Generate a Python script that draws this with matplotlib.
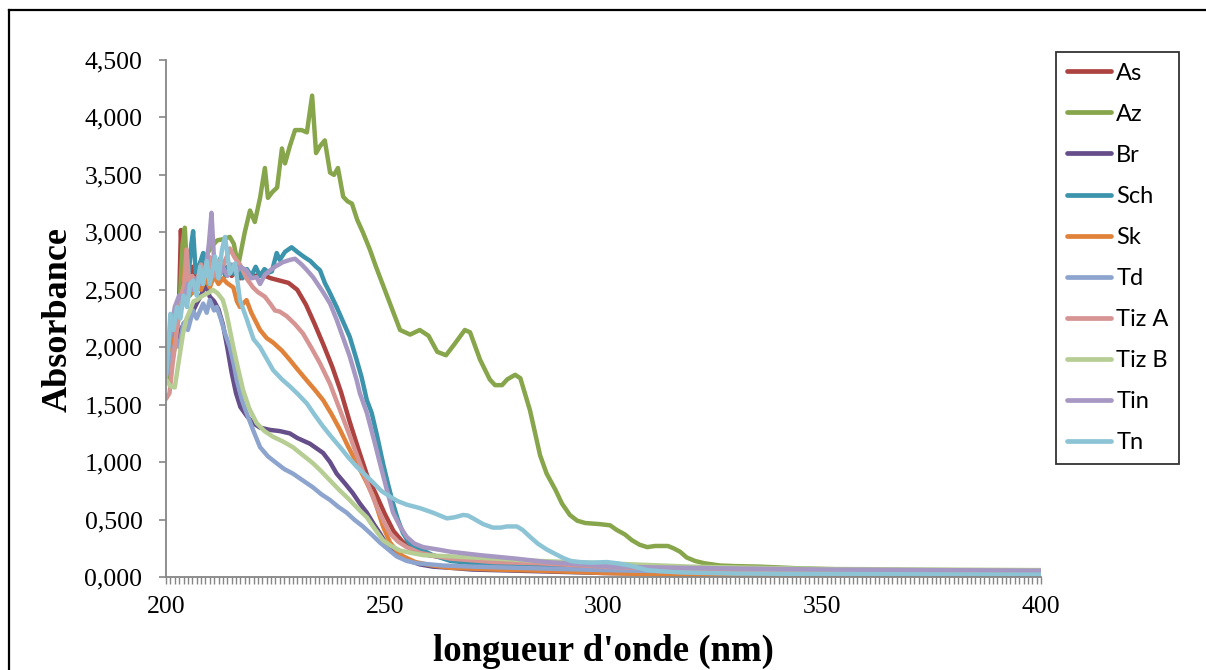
import matplotlib
matplotlib.use("Agg")
import matplotlib.pyplot as plt
from matplotlib.ticker import MultipleLocator, FuncFormatter
from matplotlib.lines import Line2D

# ---- spectra: wavelength (nm) and absorbance for each extract ----
as_nm = [200, 201, 202, 203, 203.4, 204, 205, 206, 207, 208, 209, 210, 211, 212, 213, 214, 215, 216, 217, 218, 219,
         220, 222, 224, 226, 228, 230, 232, 234, 236, 238, 240, 242, 244, 246, 248, 250, 252, 254, 256, 258, 260,
         265, 270, 280, 290, 300, 320, 350, 400]
as_abs = [1.70, 1.95, 2.20, 2.40, 3.02, 2.45, 2.55, 2.70, 2.60, 2.75, 2.65, 2.78, 2.62, 2.72, 2.66, 2.70, 2.62, 2.66,
          2.60, 2.66, 2.63, 2.62, 2.63, 2.60, 2.58, 2.56, 2.50, 2.37, 2.20, 2.02, 1.83, 1.61, 1.35, 1.11, 0.88, 0.72,
          0.55, 0.40, 0.31, 0.25, 0.21, 0.19, 0.16, 0.14, 0.12, 0.10, 0.08, 0.05, 0.04, 0.03]

az_nm = [200, 201, 202, 203, 203.8, 204.3, 204.9, 205.5, 206.5, 207.5, 208.5, 209.5, 210.5, 211.7, 213, 214.6, 215.5,
         216.5, 218, 219.2, 220.3, 221.5, 222.6, 223.3, 224.3, 225.4, 226.5, 227.2, 228.3, 229.5, 231, 232.2, 233.4,
         234.3, 235.2, 236.3, 237.5, 238.4, 239.3, 240.5, 241.5, 242.5, 243.7, 245, 246.6, 248, 250, 252, 253.5,
         255.8, 258, 260, 262, 264, 266, 268.3, 269.5, 271.8, 274, 275.2, 276.8, 278, 279.8, 281, 283.2, 285.5, 287,
         289, 290.5, 292.3, 294, 295.8, 299.2, 301.5, 303, 304.9, 306.5, 308.3, 310, 311.8, 314.7, 316, 317.5, 319,
         320.9, 323, 326.6, 330, 335.8, 345, 356, 375, 400]
az_abs = [1.72, 1.80, 2.00, 2.30, 2.90, 3.04, 2.60, 2.45, 2.55, 2.62, 2.70, 2.82, 2.88, 2.93, 2.94, 2.96, 2.90,
          2.71, 3.00, 3.19, 3.09, 3.30, 3.56, 3.30, 3.35, 3.39, 3.73, 3.60, 3.75, 3.89, 3.89, 3.87, 4.19,
          3.69, 3.75, 3.80, 3.52, 3.50, 3.56, 3.31, 3.27, 3.25, 3.11, 3.00, 2.85, 2.70, 2.50, 2.30, 2.15,
          2.11, 2.15, 2.10, 1.96, 1.93, 2.03, 2.15, 2.13, 1.89, 1.72, 1.67, 1.67, 1.72, 1.76, 1.73, 1.45, 1.06, 0.90,
          0.76, 0.64, 0.54, 0.49, 0.47, 0.46, 0.45, 0.41, 0.37, 0.32, 0.28, 0.26, 0.27, 0.27, 0.25, 0.22, 0.17,
          0.14, 0.12, 0.10, 0.095, 0.09, 0.075, 0.065, 0.055, 0.05]

br_nm = [200, 201, 202, 203, 204, 205, 206, 207, 208, 209, 210, 211, 212, 213, 214, 215, 216, 217, 218.5, 219.9,
         221.5, 223.8, 226, 228.3, 230, 232.9, 235.9, 237.5, 239, 241, 242.7, 244.3, 245.9, 247.5, 248.9, 250, 251.2,
         253, 255, 258, 261, 265, 270, 285, 300, 330, 400]
br_abs = [1.85, 1.95, 2.05, 2.12, 2.20, 2.25, 2.30, 2.38, 2.45, 2.55, 2.44, 2.40, 2.33, 2.20, 2.00, 1.78, 1.60, 1.48,
          1.40, 1.34, 1.30, 1.28, 1.27, 1.25, 1.21, 1.16, 1.08, 1.00, 0.90, 0.81, 0.73, 0.64, 0.56, 0.46, 0.38, 0.31,
          0.26, 0.20, 0.15, 0.11, 0.09, 0.08, 0.065, 0.05, 0.035, 0.02, 0.01]

sch_nm = [200, 201, 202, 203, 204, 205, 205.8, 206.2, 206.8, 207.5, 208.5, 209.5, 210.5, 211.5, 212.5, 213.5, 214.5,
          215.5, 216.5, 217.5, 218.5, 219.5, 220.5, 221.5, 222.5, 223.5, 224.2, 225.3, 226, 227.2, 228.7, 230, 231.4,
          233, 234.3, 235.2, 236.3, 237.5, 239, 240.5, 242, 243.5, 244.7, 245.9, 247, 248.3, 249.6, 250.8, 251.9,
          253, 254.2, 255.5, 257, 258.8, 261, 265, 270, 285, 300, 320, 350, 400]
sch_abs = [1.80, 2.00, 2.20, 2.35, 2.45, 2.55, 2.90, 3.01, 2.65, 2.70, 2.82, 2.60, 2.75, 2.65, 2.78, 2.62, 2.72,
           2.64, 2.70, 2.60, 2.68, 2.62, 2.70, 2.62, 2.68, 2.65, 2.66, 2.82, 2.76, 2.83, 2.87, 2.83, 2.79,
           2.75, 2.70, 2.67, 2.56, 2.47, 2.35, 2.22, 2.09, 1.90, 1.74, 1.54, 1.43, 1.22, 0.99, 0.80, 0.64,
           0.50, 0.38, 0.30, 0.26, 0.23, 0.19, 0.14, 0.12, 0.10, 0.07, 0.05, 0.04, 0.03]

sk_nm = [200, 201, 202, 203, 204, 204.6, 205.2, 206, 207, 208, 209, 210, 211, 212, 213, 213.9, 215.4, 216.2, 216.9,
         218.4, 219.5, 221.5, 223, 224.5, 226.5, 228.3, 230, 232.2, 234, 235.9, 237.8, 239.8, 241.7, 243.6, 245.5,
         247.4, 248.5, 249.6, 250.4, 251.2, 252.7, 254.2, 257, 261, 265, 275, 285, 300, 320, 340, 400]
sk_abs = [1.75, 1.90, 2.10, 2.30, 2.50, 2.85, 2.50, 2.47, 2.55, 2.50, 2.60, 2.52, 2.62, 2.55, 2.60, 2.56, 2.52, 2.40,
          2.35, 2.41, 2.30, 2.15, 2.08, 2.04, 1.97, 1.89, 1.81, 1.71, 1.63, 1.54, 1.42, 1.28, 1.13, 0.99, 0.85,
          0.70, 0.57, 0.44, 0.37, 0.30, 0.23, 0.18, 0.13, 0.10, 0.08, 0.065, 0.055, 0.035, 0.015, 0.005, 0.0]

td_nm = [200, 201, 202.4, 203, 204, 205, 206.2, 207, 208.5, 209.3, 210, 211, 211.6, 212.5, 213.5, 214.6, 215.5, 216.2,
         217.3, 218.4, 220, 221.5, 223.3, 225.3, 227, 229, 231.3, 233.6, 235.5, 237.5, 239.4, 241.3, 243, 245, 247,
         248.9, 250.8, 252.7, 255, 257.3, 263.3, 270, 285, 300, 330, 400]
td_abs = [1.75, 1.90, 2.06, 2.00, 2.21, 2.15, 2.32, 2.25, 2.38, 2.30, 2.41, 2.32, 2.35, 2.25, 2.12, 2.00, 1.85, 1.71,
          1.55, 1.43, 1.27, 1.13, 1.05, 0.99, 0.94, 0.90, 0.84, 0.78, 0.72, 0.67, 0.61, 0.56, 0.50, 0.44, 0.37,
          0.30, 0.24, 0.18, 0.14, 0.12, 0.10, 0.09, 0.075, 0.06, 0.04, 0.03]

tiza_nm = [200, 200.8, 201.5, 202.5, 203.5, 204.2, 204.7, 205.3, 206, 207, 208, 209, 210, 211, 212, 213, 214.6,
           215.7, 216.9, 218.4, 219.9, 221, 222.6, 223.8, 224.9, 226, 227.6, 229.5, 231.3, 233.3, 235.2, 237.5,
           239.5, 242, 244.3, 246.2, 248.2, 249.8, 251.2, 253, 255, 258, 262, 265, 275, 285, 300, 320, 350, 400]
tiza_abs = [1.55, 1.60, 1.85, 2.15, 2.45, 2.55, 2.85, 2.55, 2.62, 2.55, 2.72, 2.62, 2.78, 2.62, 2.75, 2.70, 2.86,
            2.78, 2.72, 2.60, 2.52, 2.48, 2.44, 2.38, 2.32, 2.31, 2.27, 2.20, 2.12, 1.99, 1.86, 1.68,
            1.48, 1.23, 0.99, 0.80, 0.61, 0.48, 0.38, 0.31, 0.26, 0.21, 0.18, 0.16, 0.13, 0.12, 0.09, 0.06, 0.05, 0.04]

tizb_nm = [200, 201, 202, 203, 203.9, 204.7, 205.5, 206.3, 207, 208, 209, 210, 210.7, 211.8, 213, 213.8, 214.6,
           215.4, 216.2, 217.6, 219, 220.7, 222.5, 224.5, 226.7, 229, 231.3, 233.6, 235.5, 237.5, 239.8, 242, 244,
           245.9, 247.7, 249.6, 251.5, 253.5, 256, 258.8, 264.9, 275, 285, 300, 320, 350, 400]
tizb_abs = [1.72, 1.66, 1.65, 1.90, 2.12, 2.25, 2.32, 2.40, 2.41, 2.44, 2.46, 2.48, 2.50, 2.47, 2.41, 2.30, 2.15,
            2.00, 1.86, 1.63, 1.47, 1.34, 1.27, 1.22, 1.18, 1.13, 1.06, 0.99, 0.92, 0.84, 0.75, 0.67, 0.59,
            0.52, 0.42, 0.32, 0.27, 0.23, 0.21, 0.19, 0.18, 0.16, 0.14, 0.12, 0.09, 0.07, 0.06]

tin_nm = [200, 201, 202, 203, 204, 205, 206, 207, 208, 209, 209.8, 210.4, 211, 212, 213, 214, 215, 216, 217, 218.4,
          219.5, 220.7, 221.5, 222.6, 223.5, 224.9, 226.7, 228.3, 229.5, 231, 232, 233.6, 235.9, 237.5, 239, 240.5,
          242, 243.6, 244.3, 245.9, 247.5, 248.9, 250.4, 251.9, 253.5, 255, 256.8, 258.8, 262, 265, 271.8, 280, 287,
          295, 302.2, 317.5, 350, 400]
tin_abs = [1.90, 2.10, 2.35, 2.45, 2.40, 2.55, 2.50, 2.60, 2.55, 2.65, 2.90, 3.17, 2.75, 2.60, 2.70, 2.62, 2.72,
           2.65, 2.70, 2.67, 2.60, 2.61, 2.55, 2.63, 2.66, 2.70, 2.74, 2.76, 2.77, 2.72, 2.68, 2.61, 2.48, 2.38,
           2.24, 2.08, 1.92, 1.71, 1.60, 1.43, 1.20, 0.99, 0.77, 0.56, 0.44, 0.35, 0.29, 0.26, 0.24, 0.22, 0.19,
           0.16, 0.13, 0.11, 0.09, 0.08, 0.065, 0.055]

tn_nm = [200, 200.5, 201, 201.7, 202.5, 203.3, 204, 204.8, 205.5, 206.2, 207, 207.8, 208.5, 209.3, 210, 211.2, 212,
         212.8, 213.5, 214.6, 215.8, 216.9, 218.4, 220, 221.5, 223, 224.5, 226.5, 228.3, 230.2, 232.2, 234, 235.9,
         237.8, 239.8, 241.7, 243.6, 245.5, 247.4, 249.2, 251.2, 253, 255, 258, 261, 264.2, 266, 267.9, 269, 270.2,
         272.5, 274.7, 276.5, 277.9, 280.2, 281.5, 283.2, 285, 287, 289, 290.8, 292.5, 294.6, 297, 300.8, 303, 306,
         308, 310, 313, 317.5, 330, 360, 400]
tn_abs = [1.75, 1.98, 2.29, 2.15, 2.35, 2.25, 2.45, 2.35, 2.55, 2.58, 2.45, 2.70, 2.55, 2.75, 2.55, 2.79, 2.60,
          2.85, 2.96, 2.64, 2.73, 2.41, 2.25, 2.07, 2.00, 1.90, 1.80, 1.72, 1.66, 1.59, 1.51, 1.41, 1.31,
          1.22, 1.13, 1.04, 0.96, 0.89, 0.82, 0.75, 0.70, 0.66, 0.63, 0.60, 0.56, 0.51, 0.52, 0.54, 0.535, 0.51,
          0.46, 0.43, 0.43, 0.44, 0.44, 0.41, 0.35, 0.29, 0.24, 0.20, 0.165, 0.14, 0.13, 0.125, 0.13, 0.12, 0.10,
          0.08, 0.06, 0.05, 0.04, 0.03, 0.025, 0.02]

labels = ["As", "Az", "Br", "Sch", "Sk", "Td", "Tiz A", "Tiz B", "Tin", "Tn"]
colors = ["#AC4340", "#87A54A", "#654E8A", "#3B93AC", "#E0823A",
          "#8DA5CE", "#D69492", "#B6CD93", "#A698C2", "#8CC4D6"]
series = [(as_nm, as_abs), (az_nm, az_abs), (br_nm, br_abs), (sch_nm, sch_abs), (sk_nm, sk_abs),
          (td_nm, td_abs), (tiza_nm, tiza_abs), (tizb_nm, tizb_abs), (tin_nm, tin_abs), (tn_nm, tn_abs)]

W, H = 1206, 670
fig = plt.figure(figsize=(W / 100, H / 100), dpi=100)
fig.patch.set_facecolor("white")

# plot area in pixel coordinates
x0, x1, y_top, y_bot = 166, 1041, 60, 577
ax = fig.add_axes([x0 / W, 1 - y_bot / H, (x1 - x0) / W, (y_bot - y_top) / H])

for (nm, ab), lab, col in zip(series, labels, colors):
    ax.plot(nm, ab, color=col, lw=3.2, label=lab, solid_joinstyle="round", solid_capstyle="round")

ax.set_xlim(200, 400)
ax.set_ylim(0, 4.5)

grey = "#868686"
for side in ("top", "right"):
    ax.spines[side].set_visible(False)
for side in ("left", "bottom"):
    ax.spines[side].set_color(grey)
    ax.spines[side].set_linewidth(1.3)

ax.xaxis.set_major_locator(MultipleLocator(50))
ax.xaxis.set_minor_locator(MultipleLocator(1))
ax.yaxis.set_major_locator(MultipleLocator(0.5))
ax.yaxis.set_major_formatter(FuncFormatter(lambda v, p: f"{v:.3f}".replace(".", ",")))

ax.tick_params(axis="both", which="both", color=grey, direction="out",
               labelsize=18.5, labelfontfamily="Liberation Serif", labelcolor="black")
ax.tick_params(axis="x", which="both", length=5, width=1.0, pad=9)
ax.tick_params(axis="y", which="major", length=5, width=1.2, pad=12)

fig.text((x0 + x1) / 2 / W, 1 - 661 / H, "longueur d'onde (nm)", ha="center", va="baseline",
         fontfamily="Liberation Serif", fontweight="bold", fontsize=26.5)
fig.text(58 / W, 1 - 320 / H, "Absorbance", ha="center", va="center", rotation=90,
         fontfamily="Liberation Serif", fontweight="bold", fontsize=26)

leg = ax.legend(loc="upper left", bbox_to_anchor=(1056 / W, 1 - 52 / H), bbox_transform=fig.transFigure,
                borderaxespad=0, frameon=True, fancybox=False, handlelength=1.9, handletextpad=0.2,
                labelspacing=0.85, borderpad=0.45, prop={"family": "Lato", "size": 17})
leg.get_frame().set_edgecolor("black")
leg.get_frame().set_linewidth(1.3)
for h in leg.get_lines():
    h.set_linewidth(3.4)

# outer chart border
fig.add_artist(Line2D([9 / W, 9 / W], [0, 1 - 10 / H], color="black", lw=1.6, transform=fig.transFigure))
fig.add_artist(Line2D([9 / W, 1], [1 - 10 / H, 1 - 10 / H], color="black", lw=1.6, transform=fig.transFigure))

fig.savefig("out.png", dpi=100)
